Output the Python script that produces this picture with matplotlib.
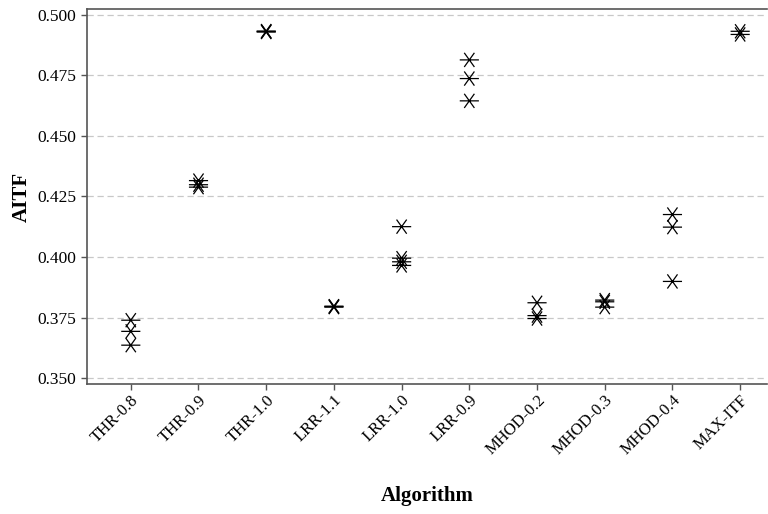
import matplotlib.pyplot as plt
from matplotlib.path import Path

plt.rcParams["font.family"] = ["Liberation Serif", "DejaVu Serif"]

algorithms = ["THR-0.8", "THR-0.9", "THR-1.0", "LRR-1.1", "LRR-1.0",
              "LRR-0.9", "MHOD-0.2", "MHOD-0.3", "MHOD-0.4", "MAX-ITF"]

aitf = {
    "THR-0.8": [0.3739, 0.3693, 0.3636],
    "THR-0.9": [0.4315, 0.4298, 0.4288],
    "THR-1.0": [0.4932, 0.4930, 0.4928],
    "LRR-1.1": [0.3797, 0.3795, 0.3793],
    "LRR-1.0": [0.4125, 0.3995, 0.3980, 0.3965],
    "LRR-0.9": [0.4813, 0.4736, 0.4644],
    "MHOD-0.2": [0.3811, 0.3758, 0.3746],
    "MHOD-0.3": [0.3822, 0.3815, 0.3793],
    "MHOD-0.4": [0.4175, 0.4123, 0.3899],
    "MAX-ITF": [0.4931, 0.4918],
}
yticks = [0.350, 0.375, 0.400, 0.425, 0.450, 0.475, 0.500]

# asterisk marker: steep X plus a wider horizontal bar
star = Path(
    [(-0.53, -0.74), (0.53, 0.74), (0.53, -0.74), (-0.53, 0.74), (-1, 0), (1, 0)],
    [Path.MOVETO, Path.LINETO, Path.MOVETO, Path.LINETO, Path.MOVETO, Path.LINETO],
)

fig = plt.figure(figsize=(7.68, 5.14), dpi=100)
ax = fig.add_axes([0.113, 0.253, 0.886, 0.7295])

for i, name in enumerate(algorithms):
    vals = aitf[name]
    ax.scatter([i] * len(vals), vals, marker=star, s=190, facecolors="none",
               edgecolors="black", linewidths=0.9, zorder=3)

ax.set_xlim(-0.65, 9.4)
ax.set_ylim(0.3476, 0.5023)
ax.set_xticks(range(len(algorithms)))
ax.set_xticklabels(algorithms, rotation=45, ha="right", rotation_mode="anchor",
                   fontsize=12)
ax.set_yticks(yticks)
ax.set_yticklabels([f"{v:.3f}" for v in yticks], fontsize=12.5)

ax.yaxis.grid(True, linestyle=(0, (5, 3)), color="#c8c8c8", linewidth=0.9)
ax.set_axisbelow(True)
for side in ["left", "bottom", "top"]:
    ax.spines[side].set_color("#555555")
    ax.spines[side].set_linewidth(1.2)
ax.spines["right"].set_visible(False)
ax.tick_params(direction="out", length=4, color="#555555", width=1)
ax.tick_params(axis="x", pad=2)

ax.set_ylabel("AITF", fontsize=15, fontweight="bold", labelpad=4)
ax.set_xlabel("Algorithm", fontsize=15, fontweight="bold", labelpad=20)

fig.savefig("out.png", dpi=100, facecolor="white")
